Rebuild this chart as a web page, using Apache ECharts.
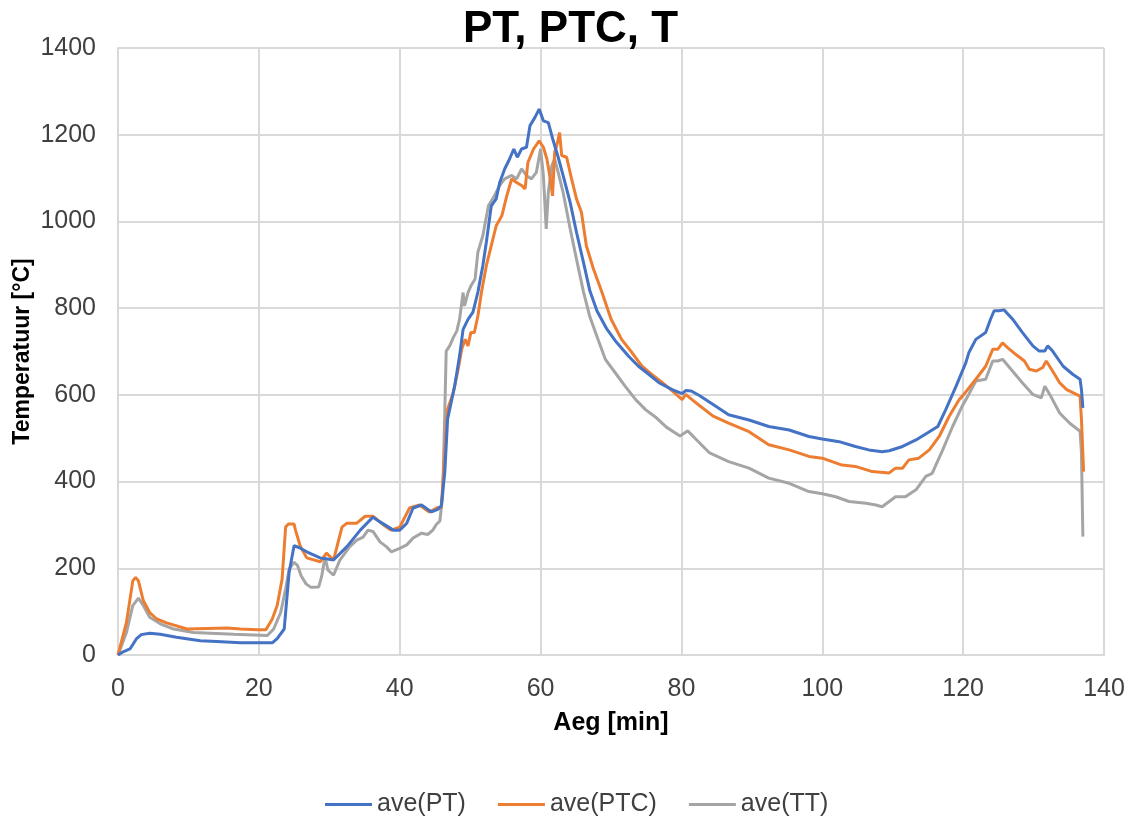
<!DOCTYPE html>
<html>
<head>
<meta charset="utf-8">
<script src="https://cdn.jsdelivr.net/npm/echarts@6/dist/echarts.min.js"></script>
<style>html,body{margin:0;padding:0;background:#fff}#c{width:1129px;height:816px}</style>
</head>
<body>
<div id="c"></div>
<script>
const titleText = 'PT, PTC, T';
const xName = 'Aeg [min]';
const yName = 'Temperatuur [°C]';
const seriesNames = ['ave(PT)', 'ave(PTC)', 'ave(TT)'];
const xTicks = {min: 0, max: 140, interval: 20};
const yTicks = {min: 0, max: 1400, interval: 200};

const avePT = [[0,0],[0.8,8],[1.7,14],[2.6,37],[3.3,47],[4.5,50],[6,48],[8.3,41],[11.7,33],[14,31],[17.4,28],[20.2,28],[21.9,28],[22.6,38],[23.6,60],[24.3,191],[25,252],[25.7,248],[26.8,238],[28.7,224],[30.6,219],[32.5,250],[34.4,288],[36.2,318],[37.2,307],[39.1,288],[40,288],[41,304],[41.9,339],[43.1,346],[44.5,330],[45.4,336],[45.9,344],[46.4,421],[46.8,544],[47.3,582],[47.8,620],[48.5,690],[49,751],[49.7,774],[50.4,791],[51.1,837],[51.8,898],[52.3,952],[53,1036],[53.7,1052],[54.2,1090],[54.9,1121],[55.6,1144],[56.2,1167],[56.7,1148],[57.3,1167],[58,1171],[58.5,1221],[59.2,1240],[59.8,1259],[60.4,1232],[61.1,1228],[61.8,1186],[62.5,1148],[63.2,1106],[64.2,1044],[65.1,975],[66.1,905],[67,840],[68,794],[69.4,752],[70.6,725],[72.5,689],[73.9,666],[75.4,647],[76.8,628],[78.7,612],[80.1,603],[80.6,610],[81.4,609],[82.6,598],[84.5,578],[86.7,554],[89.6,542],[92.4,527],[95.3,519],[98.1,504],[100,498],[102.4,492],[104.7,481],[106.6,473],[108.5,469],[109.5,471],[111.4,481],[113.3,496],[115.2,515],[116.4,527],[117.5,565],[119,620],[120.4,675],[120.8,697],[121.8,728],[123.2,744],[123.9,775],[124.4,794],[125.1,794],[125.8,796],[127,775],[128.4,744],[129.9,713],[130.8,701],[131.6,701],[132,713],[132.7,701],[134.2,666],[135.6,647],[136.6,636],[136.8,612],[137,570]];

const avePTC = [[0,0],[1.2,75],[2.1,171],[2.5,179],[2.9,171],[3.6,125],[4.5,98],[5.5,83],[6.9,74],[9.8,60],[12.6,61],[15.5,62],[17.4,60],[19.8,58],[21,58],[21.9,83],[22.6,114],[23.3,175],[23.8,295],[24.2,302],[25,302],[25.2,288],[25.9,250],[26.8,224],[28.7,215],[29.6,235],[30.6,219],[31.8,295],[32.5,304],[33.9,304],[35.1,320],[36.2,320],[37.7,300],[38.8,288],[40,295],[41.4,339],[42.8,346],[44.2,330],[45.4,340],[45.9,340],[46.4,467],[46.8,567],[47.6,605],[48.3,659],[48.8,705],[49.3,728],[49.7,713],[50.1,744],[50.6,744],[51.1,782],[51.6,836],[52.3,898],[53,944],[53.7,990],[54.5,1013],[55.2,1059],[55.9,1098],[56.6,1090],[57.3,1083],[57.8,1075],[58.2,1136],[59,1167],[59.8,1186],[60.4,1171],[60.9,1144],[61.3,1106],[61.7,1059],[62,1159],[62.4,1182],[62.7,1205],[63,1152],[63.7,1148],[64.4,1098],[65.1,1052],[65.8,1021],[66.5,944],[67.5,891],[68.7,837],[70,775],[71.5,728],[73,697],[74.4,666],[75.8,647],[77.3,628],[78.7,609],[80.1,589],[80.6,601],[81.5,589],[82.6,575],[84.5,551],[86.7,535],[89.6,515],[92.4,485],[95.3,473],[98.1,458],[100,454],[102.8,438],[104.7,435],[107.1,423],[109.5,420],[110.4,431],[111.4,431],[112.3,450],[113.7,454],[115.2,473],[116.6,504],[118,550],[119.4,588],[120.3,605],[121.8,636],[123.2,666],[124.2,705],[124.9,705],[125.6,720],[126.3,709],[127.5,693],[128.7,678],[129.4,659],[130.4,655],[131.3,663],[131.8,678],[132.7,655],[133.7,628],[134.7,612],[136.6,597],[136.8,543],[137.1,423]];

const aveTT = [[0,0],[1.2,52],[2.1,114],[2.9,131],[3.6,114],[4.5,87],[6,72],[7.9,60],[10.7,52],[16.4,48],[21.2,45],[22.1,60],[23.1,98],[23.8,152],[24.3,198],[25,214],[25.5,206],[26,183],[26.7,164],[27.4,156],[28.5,157],[28.9,180],[29.4,226],[29.8,196],[30.6,184],[31.5,219],[32.9,250],[33.9,265],[34.8,272],[35.5,288],[36.2,285],[37.2,261],[38.1,250],[38.8,238],[40,246],[41,254],[41.9,270],[43.1,281],[44,278],[44.7,288],[45.2,301],[45.7,309],[46.1,367],[46.4,559],[46.6,701],[47.1,713],[47.6,732],[48.1,747],[48.5,774],[49,836],[49.2,805],[49.7,836],[50.1,851],[50.7,867],[51.1,929],[51.8,967],[52.6,1036],[53.3,1055],[54.2,1083],[54.9,1098],[55.9,1106],[56.6,1098],[57.3,1121],[58,1106],[58.7,1098],[59.4,1113],[60,1167],[60.4,1106],[60.8,983],[61.1,1067],[61.6,1129],[62,1144],[62.5,1113],[63.2,1067],[64.2,983],[65.1,913],[66.1,837],[67,780],[68.2,726],[69.2,682],[70.6,651],[72,620],[73.5,589],[74.9,566],[76.3,549],[77.9,525],[79.8,505],[80.9,517],[82.1,497],[84,466],[86.7,446],[89.6,431],[92.4,408],[95.3,396],[98.1,377],[100,372],[101.9,365],[103.8,354],[106.2,350],[107.6,346],[108.5,342],[109.5,354],[110.4,365],[111.8,365],[113.3,381],[114.7,412],[115.6,419],[117.1,473],[118.5,527],[119.9,575],[120.8,601],[121.8,632],[123.2,636],[124.2,678],[124.9,678],[125.6,682],[127,655],[128.4,628],[129.9,601],[131.1,593],[131.6,620],[132.3,601],[133.7,558],[135.1,535],[136.6,516],[136.8,466],[137,273]];

const colors = ['#4472C4', '#ED7D31', '#A5A5A5'];
const allData = [avePT, avePTC, aveTT];

const chart = echarts.init(document.getElementById('c'), null, {renderer: 'canvas'});
const font = '"Liberation Sans", Arial, sans-serif';
chart.setOption({
  animation: false,
  backgroundColor: '#ffffff',
  title: {
    text: titleText,
    left: 458,
    top: 3,
    textStyle: {fontFamily: font, fontSize: 44, fontWeight: 'bold', color: '#000000'}
  },
  legend: {
    left: 320,
    top: 787,
    itemWidth: 47,
    itemHeight: 3,
    itemGap: 32,
    icon: 'rect',
    textStyle: {fontFamily: font, fontSize: 25, color: '#404040'},
    data: seriesNames
  },
  grid: {left: 118, right: 25, top: 48, bottom: 161, containLabel: false, outerBoundsMode: 'none'},
  xAxis: {
    type: 'value',
    min: xTicks.min, max: xTicks.max, interval: xTicks.interval,
    name: xName,
    nameLocation: 'middle',
    nameGap: 56,
    nameMoveOverlap: false,
    nameTextStyle: {fontFamily: font, fontSize: 25, fontWeight: 'bold', color: '#000000'},
    axisLine: {show: true, lineStyle: {color: '#d9d9d9', width: 2}},
    axisTick: {show: false},
    axisLabel: {fontFamily: font, fontSize: 25, color: '#404040', margin: 22},
    splitLine: {show: true, lineStyle: {color: '#d9d9d9', width: 2}}
  },
  yAxis: {
    type: 'value',
    min: yTicks.min, max: yTicks.max, interval: yTicks.interval,
    name: yName,
    nameLocation: 'middle',
    nameGap: 84,
    nameMoveOverlap: false,
    nameRotate: 90,
    nameTextStyle: {fontFamily: font, fontSize: 23, fontWeight: 'bold', color: '#000000'},
    axisLine: {show: true, lineStyle: {color: '#d9d9d9', width: 2}},
    axisTick: {show: false},
    axisLabel: {fontFamily: font, fontSize: 25, color: '#404040', margin: 22, formatter: v => String(v)},
    splitLine: {show: true, lineStyle: {color: '#d9d9d9', width: 2}}
  },
  series: seriesNames.map((n, i) => ({
    name: n,
    type: 'line',
    data: allData[i],
    showSymbol: false,
    symbol: 'none',
    color: colors[i],
    lineStyle: {width: 3, color: colors[i]},
    z: 3 - i
  }))
});
</script>
</body>
</html>
